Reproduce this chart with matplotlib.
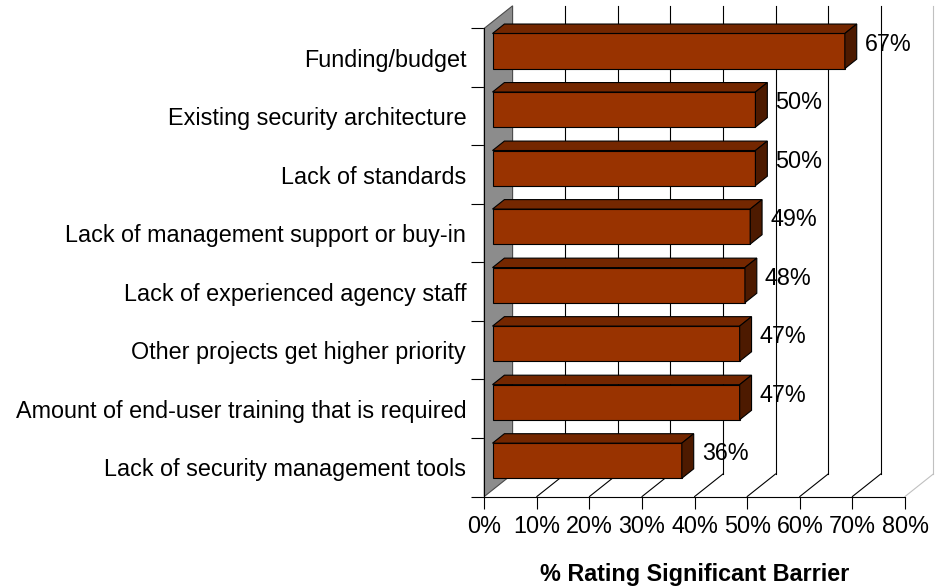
import matplotlib
matplotlib.use("Agg")
import matplotlib.pyplot as plt
from matplotlib.patches import Polygon
import numpy as np

plt.rcParams['font.family'] = ['Liberation Sans', 'DejaVu Sans']

# ---- data ----
categories = [
    "Funding/budget",
    "Existing security architecture",
    "Lack of standards",
    "Lack of management support or buy-in",
    "Lack of experienced agency staff",
    "Other projects get higher priority",
    "Amount of end-user training that is required",
    "Lack of security management tools",
]
values = [67, 50, 50, 49, 48, 47, 47, 36]
value_labels = ["67%", "50%", "50%", "49%", "48%", "47%", "47%", "36%"]
xticks = [0, 10, 20, 30, 40, 50, 60, 70, 80]
xtick_labels = ["0%", "10%", "20%", "30%", "40%", "50%", "60%", "70%", "80%"]
xlabel = "% Rating Significant Barrier"

# ---- style ----
W, H = 936, 587
fig = plt.figure(figsize=(W / 100, H / 100), dpi=100)
left_px, right_px, top_px, bot_px = 484.3, 905.0, 28.3, 496.5
ax = fig.add_axes([left_px / W, (H - bot_px) / H, (right_px - left_px) / W, (bot_px - top_px) / H])
ax.set_facecolor('none')
n = len(categories)
xmax = 80
ax.set_xlim(0, xmax)
ax.set_ylim(0, n)

px_per_x = (right_px - left_px) / xmax
px_per_y = (bot_px - top_px) / n
DX = 28.3 / px_per_x     # depth offset in data units
DY = 22.5 / px_per_y
f0, f1 = 0.29, 0.71      # bar front/back depth fractions
bar_h = 0.6
fs = 16.8

front_c = '#993300'
top_c = '#742700'
side_c = '#4d1a00'
lw = 0.8

# back wall gridlines and floor lines
for v in xticks[1:]:
    col = '#c0c0c0' if v == xmax else 'black'
    ax.plot([v + DX, v + DX], [DY, n + DY], color=col, lw=lw, clip_on=False, zorder=1)
    ax.plot([v, v + DX], [0, DY], color=col, lw=lw, clip_on=False, zorder=1)

# left side wall
wall = Polygon([(0, 0), (0, n), (DX, n + DY), (DX, DY)], closed=True,
               facecolor='#8c8c8c', edgecolor='#4a4a4a', lw=lw, clip_on=False, zorder=2)
ax.add_patch(wall)

# bars
ypos = np.arange(n)[::-1] + 0.5
ax.barh(ypos + f0 * DY, values, height=bar_h, left=f0 * DX, color=front_c,
        edgecolor='black', lw=lw, zorder=5, clip_on=False)
for y, v, lab in zip(ypos, values, value_labels):
    t = y + bar_h / 2
    b = y - bar_h / 2
    x0 = f0 * DX
    top = Polygon([(x0, t + f0 * DY), (x0 + v, t + f0 * DY),
                   (v + f1 * DX, t + f1 * DY), (f1 * DX, t + f1 * DY)],
                  closed=True, facecolor=top_c, edgecolor='black', lw=lw,
                  clip_on=False, zorder=5)
    side = Polygon([(v + f0 * DX, b + f0 * DY), (v + f0 * DX, t + f0 * DY),
                    (v + f1 * DX, t + f1 * DY), (v + f1 * DX, b + f1 * DY)],
                   closed=True, facecolor=side_c, edgecolor='black', lw=lw,
                   clip_on=False, zorder=5)
    ax.add_patch(top)
    ax.add_patch(side)
    ax.text(v + f1 * DX + 8.0 / px_per_x, y + f1 * DY - 2.5 / px_per_y, lab,
            ha='left', va='center', fontsize=fs, color='black', zorder=6)

# axes / ticks
for s in ['top', 'right']:
    ax.spines[s].set_visible(False)
ax.spines['left'].set_linewidth(lw)
ax.spines['bottom'].set_linewidth(lw)
ax.spines['left'].set_zorder(3)
ax.spines['bottom'].set_zorder(3)

ax.set_xticks(xticks)
ax.set_xticklabels(xtick_labels, fontsize=fs)
ax.tick_params(axis='x', direction='out', length=8.6, width=lw, pad=4.5)

ax.set_yticks(np.arange(n + 1), minor=True)
ax.set_yticks(ypos)
ax.set_yticklabels(categories, fontsize=fs)
ax.tick_params(axis='y', which='major', length=0, pad=13)
ax.tick_params(axis='y', which='minor', direction='out', length=9.4, width=lw)

fig.text((left_px + right_px) / 2 / W, (H - 581.5) / H, xlabel, ha='center',
         va='baseline', fontsize=16.8, fontweight='bold')

fig.savefig('out.png', dpi=100)
